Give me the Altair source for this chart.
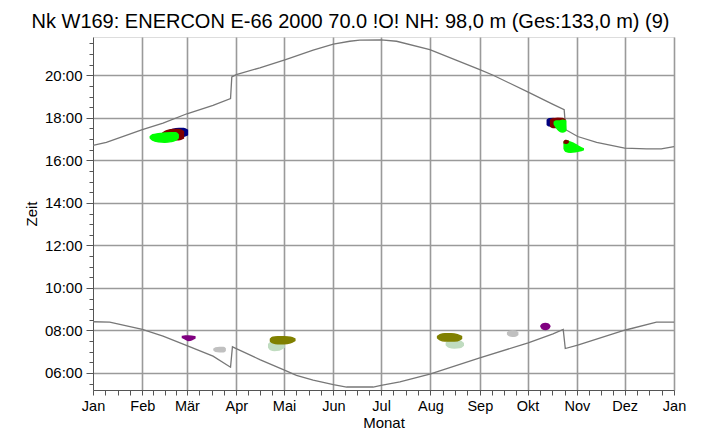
import altair as alt
import pandas as pd

# ---------------- data ----------------
TITLE = "Nk W169: ENERCON E-66 2000 70.0 !O! NH: 98,0 m (Ges:133,0 m) (9)"
month_names = ["Jan", "Feb", "Mär", "Apr", "Mai", "Jun", "Jul", "Aug", "Sep", "Okt", "Nov", "Dez", "Jan"]
month_start = [0, 31, 59, 90, 120, 151, 181, 212, 243, 273, 304, 334, 365]

# sunset (upper curve), day of year -> hour
sunset_day = [0, 8.4, 31, 44, 59, 75.4, 86.4, 87.2, 90, 104.8, 121, 138.3, 151, 161.3, 167.6, 181,
              190.7, 211.6, 243, 251.4, 273.4, 289, 296, 297, 304.5, 316.4, 334, 347.8, 357, 365]
sunset_h = [16.70, 16.85, 17.44, 17.75, 18.19, 18.58, 18.90, 19.92, 20.03, 20.35, 20.74, 21.18, 21.46, 21.60, 21.65, 21.66,
            21.60, 21.21, 20.27, 20.00, 19.21, 18.63, 18.38, 17.44, 17.12, 16.85, 16.57, 16.54, 16.54, 16.65]

# sunrise (lower curve)
sunrise_day = [0, 10.5, 31, 44, 59, 75.4, 86.4, 87.6, 90, 104.8, 121, 127.8, 138.3, 151, 159.3, 176, 181,
               192.8, 211.6, 243, 273.4, 289, 295.4, 296.7, 304.5, 334, 354, 365]
sunrise_h = [8.41, 8.39, 8.05, 7.73, 7.29, 6.79, 6.27, 7.23, 7.15, 6.63, 6.11, 5.89, 5.66, 5.45, 5.34, 5.34, 5.42,
             5.58, 5.95, 6.71, 7.42, 7.84, 8.05, 7.15, 7.31, 8.01, 8.39, 8.39]

# shadow periods: (colour, days, start hour, end hour)
blob_color = ["#c0dcc0", "#808000", "#c0dcc0", "#808000", "#c0c0c0", "#c0c0c0", "#800080", "#800080",
              "#000080", "#800000", "#00ff00",
              "#000080", "#800000", "#00ff00", "#00ff00", "#800000"]
blob_days = [
    [110.4, 111.5, 114, 117, 120],
    [111.5, 113, 116, 120, 124, 126.8],
    [222, 223.5, 227, 230.5, 232.6],
    [216.5, 218, 221, 225, 229, 231.5],
    [76, 77, 79.5, 82, 83],
    [260.5, 261.5, 263.5, 265.5, 266.8],
    [56.2, 58, 60, 62, 64],
    [281.4, 282.3, 284.2, 286.1, 287],
    [47.5, 50, 54, 57, 59.3],
    [43.8, 46, 50, 54, 56.8],
    [36, 37.5, 41, 45, 49, 52, 53.5],
    [285.4, 286.5, 289, 291.3],
    [287.5, 289, 292, 295, 296.5],
    [289.8, 291, 293, 295, 297],
    [296, 297, 300, 303, 306, 308],
    [296, 297, 298.5],
]
blob_lo = [
    [7.20, 7.10, 7.06, 7.08, 7.20],
    [7.50, 7.42, 7.38, 7.38, 7.42, 7.52],
    [7.32, 7.22, 7.18, 7.20, 7.30],
    [7.65, 7.56, 7.50, 7.50, 7.52, 7.62],
    [7.08, 7.02, 7.00, 7.00, 7.05],
    [7.82, 7.76, 7.73, 7.74, 7.80],
    [7.66, 7.60, 7.53, 7.56, 7.64],
    [8.19, 8.09, 8.05, 8.09, 8.19],
    [17.25, 17.15, 17.12, 17.13, 17.20],
    [17.20, 17.05, 16.98, 16.97, 17.05],
    [17.05, 16.95, 16.87, 16.85, 16.88, 16.95, 17.05],
    [17.68, 17.62, 17.60, 17.70],
    [17.60, 17.55, 17.55, 17.60, 17.70],
    [17.70, 17.55, 17.38, 17.33, 17.40],
    [16.55, 16.42, 16.38, 16.40, 16.45, 16.50],
    [16.82, 16.80, 16.85],
]
blob_hi = [
    [7.35, 7.42, 7.45, 7.42, 7.35],
    [7.60, 7.68, 7.70, 7.70, 7.68, 7.60],
    [7.42, 7.50, 7.52, 7.50, 7.40],
    [7.72, 7.80, 7.84, 7.84, 7.80, 7.72],
    [7.13, 7.18, 7.20, 7.20, 7.15],
    [7.90, 7.95, 7.97, 7.96, 7.90],
    [7.72, 7.74, 7.74, 7.73, 7.70],
    [8.21, 8.30, 8.33, 8.30, 8.21],
    [17.35, 17.45, 17.50, 17.50, 17.42],
    [17.28, 17.38, 17.45, 17.45, 17.35],
    [17.12, 17.20, 17.25, 17.28, 17.30, 17.30, 17.20],
    [17.90, 17.96, 17.97, 17.95],
    [17.90, 17.96, 17.98, 17.97, 17.90],
    [17.80, 17.85, 17.85, 17.88, 17.85],
    [16.85, 16.93, 16.85, 16.75, 16.62, 16.55],
    [16.88, 16.93, 16.90],
]

# ---------------- axis helpers ----------------
month_len = [month_start[i + 1] - month_start[i] for i in range(12)]
x_ticks = []
for i in range(12):
    for k in range(4):
        x_ticks.append(round(month_start[i] + k * month_len[i] / 4, 2))
x_ticks.append(365)
y_ticks = [5.5 + 0.5 * i for i in range(33)]

ms_js = "[" + ",".join(str(v) for v in month_start) + "]"
mn_js = "[" + ",".join("'" + m + "'" for m in month_names) + "]"
x_label_expr = f"indexof({ms_js}, datum.value) >= 0 ? {mn_js}[indexof({ms_js}, datum.value)] : ''"
y_label_expr = "datum.value % 2 == 0 ? (datum.value < 10 ? '0' : '') + datum.value + ':00' : ''"

FONT = "Liberation Sans"
GRID = "#9a9a9a"

x_scale = alt.Scale(domain=[0, 365], nice=False, zero=False)
y_scale = alt.Scale(domain=[5.2, 21.8], nice=False, zero=False)

x_axis = alt.Axis(
    values=x_ticks, tickCount=200, labelExpr=x_label_expr, title="Monat",
    grid=True, gridColor=GRID, gridWidth=1.6,
    gridOpacity={"condition": {"test": f"indexof({ms_js}, datum.value) > 0", "value": 1}, "value": 0},
    tickSize=5, tickColor="#555555", domainColor="#555555",
    labelOverlap=False, labelFlush=False, labelBound=False, labelPadding=4,
    labelFont=FONT, labelFontSize=14.5, labelColor="#000000",
    titleFont=FONT, titleFontSize=15, titleFontWeight="normal", titleColor="#000000", titlePadding=3,
)
y_axis = alt.Axis(
    values=y_ticks, tickCount=200, labelExpr=y_label_expr, title="Zeit",
    grid=True, gridColor=GRID, gridWidth=1.6,
    gridOpacity={"condition": {"test": "datum.value % 2 == 0", "value": 1}, "value": 0},
    tickSize={"condition": {"test": "datum.value % 2 == 0", "value": 7}, "value": 4},
    tickColor="#555555", domainColor="#555555",
    labelOverlap=False, labelFlush=False, labelBound=False, labelPadding=4,
    labelFont=FONT, labelFontSize=15, labelColor="#000000",
    titleFont=FONT, titleFontSize=15, titleFontWeight="normal", titleColor="#000000", titlePadding=5,
)

# ---------------- charts ----------------
curve_df = pd.concat([
    pd.DataFrame({"day": sunset_day, "h": sunset_h, "curve": "sunset"}),
    pd.DataFrame({"day": sunrise_day, "h": sunrise_h, "curve": "sunrise"}),
])

base_axes = alt.Chart(curve_df).mark_line(color="#777777", strokeWidth=1.3).encode(
    x=alt.X("day:Q", scale=x_scale, axis=x_axis),
    y=alt.Y("h:Q", scale=y_scale, axis=y_axis),
    detail="curve:N",
)

blob_layers = []
for i, col in enumerate(blob_color):
    df = pd.DataFrame({"day": blob_days[i], "lo": blob_lo[i], "hi": blob_hi[i]})
    blob_layers.append(
        alt.Chart(df).mark_area(color=col, interpolate="monotone", stroke=col, strokeWidth=1.5).encode(
            x=alt.X("day:Q", scale=x_scale),
            y=alt.Y("lo:Q", scale=y_scale, stack=None),
            y2="hi:Q",
        )
    )

chart = alt.layer(base_axes, *blob_layers).properties(
    width=581, height=353,
    title=alt.TitleParams(TITLE, font=FONT, fontSize=20, fontWeight="normal", color="#000000",
                          anchor="middle", offset=4, dx=-33),
    autosize=alt.AutoSizeParams(type="none"),
    padding={"left": 85, "top": 29, "right": 20, "bottom": 42},
).configure_view(stroke=None).configure(background="white")

chart.save("out.html", embed_options={"renderer": "svg", "actions": False})
